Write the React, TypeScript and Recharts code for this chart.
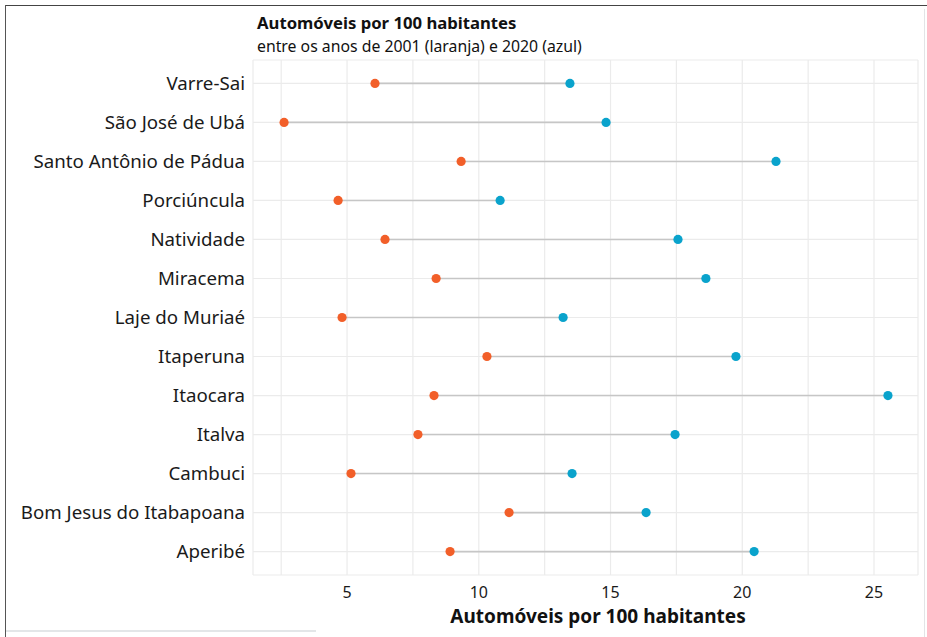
import React from "react";
import {
  ScatterChart,
  Scatter,
  XAxis,
  YAxis,
  CartesianGrid,
} from "recharts";

// municipalities, top to bottom as in the chart
const cities = [
  "Varre-Sai",
  "São José de Ubá",
  "Santo Antônio de Pádua",
  "Porciúncula",
  "Natividade",
  "Miracema",
  "Laje do Muriaé",
  "Itaperuna",
  "Itaocara",
  "Italva",
  "Cambuci",
  "Bom Jesus do Itabapoana",
  "Aperibé",
];

// automóveis por 100 habitantes
const y2001 = [6.06, 2.61, 9.33, 4.66, 6.44, 8.38, 4.81, 10.31, 8.3, 7.69, 5.15, 11.15, 8.91];
const y2020 = [13.46, 14.83, 21.28, 10.81, 17.56, 18.62, 13.2, 19.76, 25.53, 17.45, 13.54, 16.35, 20.45];

const xTicks = [5, 10, 15, 20, 25];
const gridTicks = [2.5, 5, 7.5, 10, 12.5, 15, 17.5, 20, 22.5, 25];

const ORANGE = "#F25F29";
const BLUE = "#0AA3CC";
const FONT = "'Noto Sans', 'Open Sans', sans-serif";

const rowIdx = cities.map((_, i) => i + 1);
const orangePts = cities.map((c, i) => ({ x: y2001[i], y: i + 1, name: c }));
const bluePts = cities.map((c, i) => ({ x: y2020[i], y: i + 1, name: c }));

const Dot = (color: string) => (props: any) => {
  const { cx, cy } = props;
  if (cx == null || cy == null) return <g />;
  return <circle cx={cx} cy={cy} r={4.6} fill={color} />;
};

const NoShape = () => <g />;

export default function App() {
  return (
    <div
      style={{
        position: "absolute",
        left: 0,
        top: 0,
        width: 927,
        height: 637,
        background: "#fff",
        fontFamily: FONT,
        color: "#111",
      }}
    >
      {/* frame from the cropped screenshot */}
      <div style={{ position: "absolute", left: 5, top: 5, width: 922, height: 0, borderTop: "1.5px solid #444" }} />
      <div style={{ position: "absolute", left: 5, top: 5, width: 0, height: 632, borderLeft: "1.5px solid #555" }} />
      <div style={{ position: "absolute", left: 924, top: 9, width: 0, height: 628, borderLeft: "1.5px solid #e2e4e6" }} />
      <div style={{ position: "absolute", left: 6, top: 630, width: 310, height: 0, borderTop: "2px solid #e3e6e8" }} />

      <div style={{ position: "absolute", left: 257, top: 15, fontSize: 16.7, lineHeight: 1, fontWeight: 700, whiteSpace: "nowrap" }}>
        Automóveis por 100 habitantes
      </div>
      <div style={{ position: "absolute", left: 257, top: 39, fontSize: 15.8, lineHeight: 1, whiteSpace: "nowrap" }}>
        entre os anos de 2001 (laranja) e 2020 (azul)
      </div>
      <div
        style={{
          position: "absolute",
          left: 253,
          width: 690,
          top: 607,
          textAlign: "center",
          fontSize: 19,
          lineHeight: 1,
          fontWeight: 700,
          whiteSpace: "nowrap",
        }}
      >
        Automóveis por 100 habitantes
      </div>

      <ScatterChart
        width={927}
        height={637}
        margin={{ top: 60, right: 9, bottom: 32, left: 0 }}
        style={{ position: "absolute", left: 0, top: 0 }}
      >
        <CartesianGrid
          xAxisId="grid"
          stroke="#ebebeb"
          strokeWidth={1.2}
          horizontal={true}
          vertical={true}
        />
        <XAxis
          xAxisId="grid"
          type="number"
          dataKey="x"
          domain={[1.43, 26.67]}
          ticks={gridTicks}
          allowDataOverflow
          hide
        />
        <XAxis
          type="number"
          dataKey="x"
          domain={[1.43, 26.67]}
          ticks={xTicks}
          allowDataOverflow
          axisLine={false}
          tickLine={false}
          tickSize={0}
          tickMargin={12}
          height={30}
          tick={{ fill: "#1a1a1a", fontSize: 16, fontFamily: FONT }}
        />
        <YAxis
          type="number"
          dataKey="y"
          domain={[0.4, 13.6]}
          ticks={rowIdx}
          reversed
          allowDataOverflow
          width={253}
          axisLine={false}
          tickLine={false}
          tickSize={0}
          tickMargin={8}
          interval={0}
          tickFormatter={(v: number) => cities[v - 1] ?? ""}
          tick={{ fill: "#1a1a1a", fontSize: 18.7, fontFamily: FONT }}
        />
        {cities.map((c, i) => (
          <Scatter
            key={c}
            data={[orangePts[i], bluePts[i]]}
            line={{ stroke: "#c6c6c6", strokeWidth: 1.6 }}
            shape={NoShape}
            isAnimationActive={false}
          />
        ))}
        <Scatter data={orangePts} shape={Dot(ORANGE)} isAnimationActive={false} />
        <Scatter data={bluePts} shape={Dot(BLUE)} isAnimationActive={false} />
      </ScatterChart>
    </div>
  );
}
